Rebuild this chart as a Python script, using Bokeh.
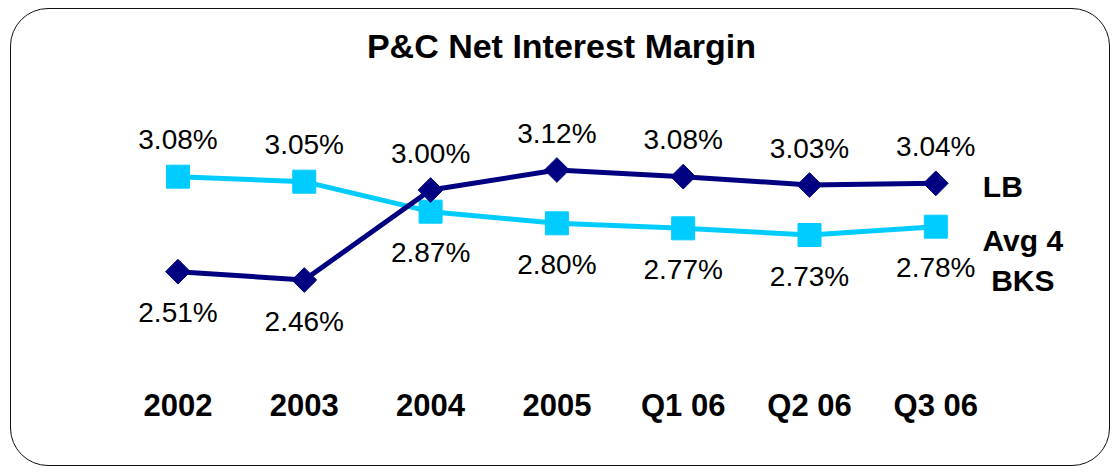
import math
from bokeh.plotting import figure
from bokeh.models import FixedTicker, ColumnDataSource, Range1d
from bokeh.core.properties import value
from bokeh.embed import file_html
from bokeh.resources import INLINE

# ---- data ----
categories = ["2002", "2003", "2004", "2005", "Q1 06", "Q2 06", "Q3 06"]
lb = [2.51, 2.46, 3.00, 3.12, 3.08, 3.03, 3.04]
avg4 = [3.08, 3.05, 2.87, 2.80, 2.77, 2.73, 2.78]
series_names = ["LB", "Avg 4\nBKS"]
title_text = "P&C Net Interest Margin"

# ---- styles ----
FONT = "Liberation Sans"
NAVY = "#000080"
CYAN = "#00CCFF"

W, H = 1100, 458
xs = list(range(len(categories)))

p = figure(width=W, height=H, output_backend="svg", toolbar_location=None,
           x_range=Range1d(-1.318, 7.391), y_range=Range1d(1.863, 3.663),
           min_border_left=0, min_border_right=0, min_border_top=70,
           min_border_bottom=88, title=title_text)

p.styles = {"border": "1.5px solid #111111", "border-radius": "38px",
            "overflow": "hidden", "margin": "8px 0 0 10px"}
p.background_fill_color = None
p.border_fill_color = None
p.outline_line_color = None
p.grid.visible = False
p.yaxis.visible = False

p.title.text_font = FONT
p.title.text_font_size = "34px"
p.title.text_font_style = "bold"
p.title.align = "center"
p.title.text_color = "black"
p.title.standoff = 30

ax = p.xaxis[0]
ax.ticker = FixedTicker(ticks=xs)
ax.major_label_overrides = {i: c for i, c in enumerate(categories)}
ax.major_label_text_font = FONT
ax.major_label_text_font_size = "31px"
ax.major_label_text_font_style = "bold"
ax.major_label_text_color = "black"
ax.axis_line_color = None
ax.major_tick_line_color = None
ax.minor_tick_line_color = None
ax.major_tick_out = 0
ax.major_label_standoff = 8

# lines and markers (LB drawn on top)
p.line(xs, avg4, line_color=CYAN, line_width=5)
p.scatter(xs, avg4, marker="square", size=23, fill_color=CYAN, line_color=CYAN)
p.line(xs, lb, line_color=NAVY, line_width=5)
p.scatter(xs, lb, marker="square", angle=math.pi / 4, size=17.5,
          fill_color=NAVY, line_color=NAVY)

# value labels: above the point if the series is higher there, else below
for vals, other in ((lb, avg4), (avg4, lb)):
    offs = [-37 if v > o else 41 for v, o in zip(vals, other)]
    src = ColumnDataSource(dict(x=xs, y=vals, t=[f"{v:.2f}%" for v in vals],
                                off=offs))
    p.text(x="x", y="y", text="t", y_offset="off", source=src,
           text_font=value(FONT), text_font_size="28px", text_color="black",
           text_align="center", text_baseline="middle")

# series labels at right
p.text(x=[xs[-1]], y=[lb[-1]], text=[series_names[0]], x_offset=67, y_offset=3,
       text_font=value(FONT), text_font_size="30px", text_font_style="bold",
       text_color="black", text_align="center", text_baseline="middle")
p.text(x=[xs[-1]], y=[avg4[-1]], text=[series_names[1]], x_offset=87, y_offset=34,
       text_font=value(FONT), text_font_size="30px", text_font_style="bold",
       text_color="black", text_align="center", text_baseline="middle",
       text_line_height=1.2)

open("out.html", "w").write(file_html(p, INLINE))
